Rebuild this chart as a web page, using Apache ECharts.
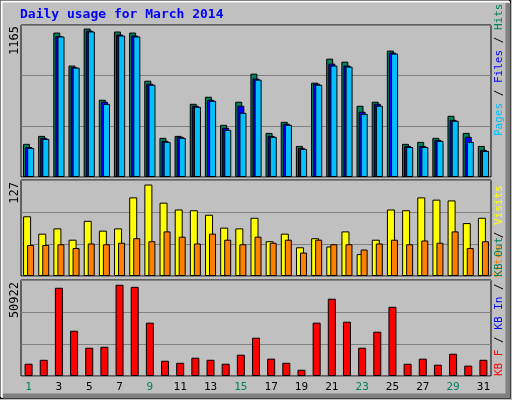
<!DOCTYPE html>
<html>
<head>
<meta charset="utf-8">
<script src="https://cdn.jsdelivr.net/npm/echarts@6/dist/echarts.min.js"></script>
<style>
  html, body { margin: 0; padding: 0; background: #c0c0c0; }
  #chart { width: 512px; height: 400px; }
</style>
</head>
<body>
<div id="chart"></div>
<script>
// 数据
var days = [];
for (var d = 1; d <= 31; d++) days.push(String(d));
var weekendDays = ['1', '2', '8', '9', '15', '16', '22', '23', '29', '30'];

var hitsMax = 1165, visitsMax = 127, kbMax = 50922;

var hits  = [254, 315, 1107, 854, 1138, 592, 1115, 1107, 738, 300, 315, 561, 615, 400, 577, 792,
             338, 423, 238, 723, 907, 884, 546, 577, 969, 254, 269, 300, 469, 338, 238];
var files = [230, 300, 1080, 842, 1122, 577, 1092, 1084, 715, 277, 308, 546, 592, 377, 546, 754,
             315, 408, 223, 715, 869, 854, 500, 561, 954, 238, 238, 284, 438, 308, 208];
var pages = [223, 292, 1077, 838, 1115, 561, 1084, 1077, 707, 269, 300, 538, 584, 361, 492, 746,
             308, 400, 215, 707, 854, 846, 484, 546, 946, 230, 230, 277, 431, 269, 200];

var visits = [79, 56, 63, 48, 73, 60, 63, 104, 121, 97, 88, 87, 81, 64, 63, 77,
              46, 56, 38, 50, 39, 59, 29, 48, 88, 87, 104, 101, 100, 70, 77];
var sites  = [41, 41, 42, 37, 43, 42, 44, 50, 46, 59, 52, 43, 56, 48, 42, 52,
              44, 48, 31, 48, 42, 42, 35, 43, 48, 42, 47, 44, 59, 37, 46];

var kbytes = [6500, 8600, 46800, 24000, 15000, 15500, 48400, 47300, 28300, 8100, 7000, 9700, 8600, 6500, 11300, 20300,
              9200, 7000, 3300, 28300, 41000, 28800, 15000, 23500, 36700, 6500, 9200, 6000, 11800, 5500, 8600];

var mono = 'DejaVu Sans Mono';
var chart = echarts.init(document.getElementById('chart'));

function xAxisFor(idx, showLabels) {
    return {
        type: 'category', gridIndex: idx, data: days,
        axisLine: { show: false }, axisTick: { show: false },
        axisLabel: {
            show: showLabels, fontFamily: mono, fontSize: 11, margin: 6,
            color: function (v) { return weekendDays.indexOf(v) >= 0 ? '#00805c' : '#000'; }
        }
    };
}
function yAxisFor(idx, max) {
    return {
        type: 'value', gridIndex: idx, min: 0, max: max, interval: max / 3,
        axisLine: { show: false }, axisTick: { show: false }, axisLabel: { show: false },
        splitLine: { lineStyle: { color: '#808080', width: 1 } }
    };
}
var bs = { borderColor: '#000', borderWidth: 1 };

option = {
    backgroundColor: '#c0c0c0',
    animation: false,
    grid: [
        { left: 21, right: 21, top: 25, height: 152, show: true, borderColor: '#000', borderWidth: 1 },
        { left: 21, right: 21, top: 180, height: 96, show: true, borderColor: '#000', borderWidth: 1 },
        { left: 21, right: 21, top: 280, height: 96, show: true, borderColor: '#000', borderWidth: 1 }
    ],
    xAxis: [xAxisFor(0, false), xAxisFor(1, false), xAxisFor(2, true)],
    yAxis: [yAxisFor(0, hitsMax), yAxisFor(1, visitsMax), yAxisFor(2, kbMax)],
    series: [
        { type: 'bar', xAxisIndex: 0, yAxisIndex: 0, data: hits, barWidth: 7, barGap: '-70%',
          itemStyle: Object.assign({ color: '#00805c' }, bs) },
        { type: 'bar', xAxisIndex: 0, yAxisIndex: 0, data: files, barWidth: 7, barGap: '-70%',
          itemStyle: Object.assign({ color: '#0000ff' }, bs) },
        { type: 'bar', xAxisIndex: 0, yAxisIndex: 0, data: pages, barWidth: 7, barGap: '-70%',
          itemStyle: Object.assign({ color: '#00c0ff' }, bs) },
        { type: 'bar', xAxisIndex: 1, yAxisIndex: 1, data: visits, barWidth: 8, barGap: '-50%',
          itemStyle: Object.assign({ color: '#ffff00' }, bs) },
        { type: 'bar', xAxisIndex: 1, yAxisIndex: 1, data: sites, barWidth: 7, barGap: '-50%',
          itemStyle: Object.assign({ color: '#ff8000' }, bs) },
        { type: 'bar', xAxisIndex: 2, yAxisIndex: 2, data: kbytes, barWidth: 8,
          itemStyle: Object.assign({ color: '#ff0000' }, bs) }
    ],
    graphic: [
        // 外框
        { type: 'rect', shape: { x: 0.5, y: 0.5, width: 510, height: 398 }, silent: true,
          style: { fill: 'none', stroke: '#000', lineWidth: 1 } },
        { type: 'polyline', shape: { points: [[1.5, 397], [1.5, 1.5], [509, 1.5]] }, silent: true,
          style: { stroke: '#fff', lineWidth: 2, fill: 'none' } },
        { type: 'polyline', shape: { points: [[3, 396], [508, 396], [508, 3]] }, silent: true,
          style: { stroke: '#808080', lineWidth: 5, fill: 'none' } },
        { type: 'text', left: 20, top: 8,
          style: { text: 'Daily usage for March 2014', fill: '#0000ff', font: 'bold 13px ' + mono } },
        // 最大值标签
        { type: 'text', x: 9, y: 26, rotation: Math.PI / 2, style: { text: String(hitsMax), fill: '#000', font: '12px ' + mono, align: 'right', verticalAlign: 'top' } },
        { type: 'text', x: 9, y: 182, rotation: Math.PI / 2, style: { text: String(visitsMax), fill: '#000', font: '12px ' + mono, align: 'right', verticalAlign: 'top' } },
        { type: 'text', x: 9, y: 282, rotation: Math.PI / 2, style: { text: String(kbMax), fill: '#000', font: '12px ' + mono, align: 'right', verticalAlign: 'top' } },
        // 右侧图例
        { type: 'text', x: 494, y: 136, rotation: Math.PI / 2,
          style: { text: '{p|Pages} {s|/} {f|Files} {s|/} {h|Hits}', align: 'left', verticalAlign: 'top', font: '11px ' + mono,
                   rich: { p: { fill: '#00c0ff', font: '11px ' + mono }, s: { fill: '#000', font: '11px ' + mono },
                           f: { fill: '#0000ff', font: '11px ' + mono }, h: { fill: '#00805c', font: '11px ' + mono } } } },
        { type: 'text', x: 494, y: 278, rotation: Math.PI / 2,
          style: { text: '{o|Sites} {s|/} {v|Visits}', align: 'left', verticalAlign: 'top', font: '11px ' + mono,
                   rich: { o: { fill: '#ff8000', font: '11px ' + mono }, s: { fill: '#000', font: '11px ' + mono },
                           v: { fill: '#ffff00', font: '11px ' + mono } } } },
        { type: 'text', x: 494, y: 376, rotation: Math.PI / 2,
          style: { text: '{r|KB F} {s|/} {b|KB In} {s|/} {g|KB Out}', align: 'left', verticalAlign: 'top', font: '11px ' + mono,
                   rich: { r: { fill: '#ff0000', font: '11px ' + mono }, s: { fill: '#000', font: '11px ' + mono },
                           b: { fill: '#0000ff', font: '11px ' + mono }, g: { fill: '#00805c', font: '11px ' + mono } } } }
    ]
};
chart.setOption(option);
</script>
</body>
</html>
